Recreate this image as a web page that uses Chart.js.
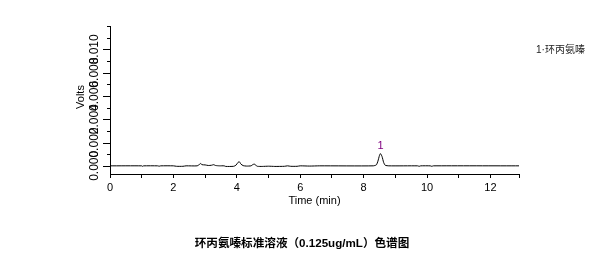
<!DOCTYPE html>
<html>
<head>
<meta charset="utf-8">
<script src="https://cdn.jsdelivr.net/npm/chart.js@4.4.1/dist/chart.umd.min.js"></script>
<style>
  html, body { margin: 0; padding: 0; background: #fff; }
  #wrap { width: 610px; height: 266px; position: relative; }
</style>
</head>
<body>
<div id="wrap"><canvas id="chromatogram"></canvas></div>
<script>
// retention time (min) and detector signal (Volts)
const times = [0, 1.0, 1.02, 1.06, 1.5, 1.55, 1.6, 2.0, 2.1, 2.3, 2.4, 2.75, 2.82, 2.86, 2.9, 3.0, 3.1, 3.2, 3.27, 3.33, 3.45,
  3.6, 3.65, 3.9, 3.97, 4.04, 4.08, 4.13, 4.2, 4.3, 4.45, 4.5, 4.55, 4.6, 4.65, 4.8, 5.0, 5.2, 5.5, 5.6, 5.7, 5.9, 6.0, 6.3, 6.6,
  8.3, 8.4, 8.45, 8.5, 8.53, 8.58, 8.63, 8.68, 8.8, 9.7, 9.75, 9.8, 10.1, 10.15, 10.2, 12.9];
const volts = [0, 0, -0.00004, 0, 0, -0.00003, 0, 0, -0.00004, -0.00004, 0, 0, 0.00012, 0.0002, 0.0001, 0.00008, 0.00003, 0.00005, 0.0001, 0.00003, 0,
  0, -0.00005, -0.00004, 0.00005, 0.0003, 0.00035, 0.00015, 0.00002, -0.00002, 0, 0.0001, 0.00015, 0.00005, -0.00004, -0.00005, -0.00003, -0.00005, -0.00004, 0, -0.00004, -0.00004, 0, -0.00002, 0,
  0, 0.00008, 0.0004, 0.0009, 0.00105, 0.0008, 0.0003, 0.00005, 0, 0, -0.00004, 0, 0, -0.00004, 0, 0];

// peak table
const peakNames = ['环丙氨嗪'];
const peakTimes = [8.53];
const peakHeights = [0.00105];

// axes
const xTicks = [0, 1, 2, 3, 4, 5, 6, 7, 8, 9, 10, 11, 12, 12.9];
const xTickLabels = ['0', '2', '4', '6', '8', '10', '12'];
const yMajorTicks = [0, 0.002, 0.004, 0.006, 0.008, 0.010];
const yTickLabels = ['0.000', '0.002', '0.004', '0.006', '0.008', '0.010'];
const yMinorTicks = [0.001, 0.003, 0.005, 0.007, 0.009, 0.011, 0.012];

const chartTitle = '环丙氨嗪标准溶液（0.125ug/mL）色谱图';
const FONT = '"Liberation Sans", Arial, "Noto Sans CJK SC", sans-serif';

// y axis labels are rotated and overlap, so they are drawn by hand
const decorations = {
    id: 'decorations',
    afterDraw(chart) {
        const ctx = chart.ctx;
        const y = chart.scales.y;
        const x = chart.scales.x;
        const left = chart.chartArea.left;
        ctx.save();
        ctx.strokeStyle = '#000';
        ctx.lineWidth = 1;
        ctx.beginPath();
        yMinorTicks.forEach(v => {
            const py = Math.round(y.getPixelForValue(v)) + 0.5;
            ctx.moveTo(left - 3, py);
            ctx.lineTo(left, py);
        });
        yMajorTicks.forEach(v => {
            const py = Math.round(y.getPixelForValue(v)) + 0.5;
            ctx.moveTo(left - 7, py);
            ctx.lineTo(left, py);
        });
        ctx.stroke();

        ctx.fillStyle = '#000';
        ctx.font = '12px ' + FONT;
        ctx.textAlign = 'center';
        ctx.textBaseline = 'middle';
        yMajorTicks.forEach((v, i) => {
            ctx.save();
            ctx.translate(95, y.getPixelForValue(v));
            ctx.rotate(-Math.PI / 2);
            ctx.fillText(yTickLabels[i], 0, 0);
            ctx.restore();
        });
        ctx.font = '11px ' + FONT;
        ctx.save();
        ctx.translate(81, 97);
        ctx.rotate(-Math.PI / 2);
        ctx.fillText('Volts', 0, 0);
        ctx.restore();

        // peak numbers above the peaks
        ctx.fillStyle = '#800080';
        peakTimes.forEach((t, i) => {
            ctx.fillText(String(i + 1), x.getPixelForValue(t), y.getPixelForValue(peakHeights[i]) - 8);
        });

        // peak list on the right
        ctx.fillStyle = '#222';
        ctx.textAlign = 'left';
        ctx.font = '10px ' + FONT;
        peakNames.forEach((name, i) => {
            ctx.fillText((i + 1) + '·' + name, 536, 50 + i * 13);
        });

        ctx.fillStyle = '#000';
        ctx.textAlign = 'center';
        ctx.font = 'bold 11.6px ' + FONT;
        ctx.fillText(chartTitle, 302, 244);
        ctx.restore();
    }
};

new Chart(document.getElementById('chromatogram'), {
    type: 'line',
    data: {
        datasets: [{
            data: times.map((t, i) => ({ x: t, y: volts[i] })),
            borderColor: '#000',
            borderWidth: 1,
            pointRadius: 0,
            tension: 0.2,
            fill: false
        }]
    },
    options: {
        responsive: true,
        maintainAspectRatio: false,
        animation: false,
        layout: { padding: { top: 26, right: 91, left: 0, bottom: 58 } },
        plugins: { legend: { display: false }, tooltip: { enabled: false } },
        scales: {
            x: {
                type: 'linear',
                min: 0,
                max: 12.9,
                afterBuildTicks: scale => { scale.ticks = xTicks.map(v => ({ value: v })); },
                afterFit: scale => { scale.height = 34; },
                grid: { display: true, drawOnChartArea: false, tickLength: 4, color: '#000' },
                border: { display: true, color: '#000', width: 1 },
                ticks: {
                    autoSkip: false,
                    maxRotation: 0,
                    padding: 3,
                    color: '#000',
                    font: { family: FONT, size: 11 },
                    callback: v => xTickLabels.includes(String(v)) ? String(v) : ''
                },
                title: { display: true, text: 'Time (min)', color: '#000', padding: { top: 0, bottom: 0 }, font: { family: FONT, size: 11 } }
            },
            y: {
                min: -0.0007,
                max: 0.012,
                afterFit: scale => { scale.width = 110; },
                grid: { display: false },
                border: { display: true, color: '#000', width: 1 },
                ticks: { display: false }
            }
        }
    },
    plugins: [decorations]
});
</script>
</body>
</html>
